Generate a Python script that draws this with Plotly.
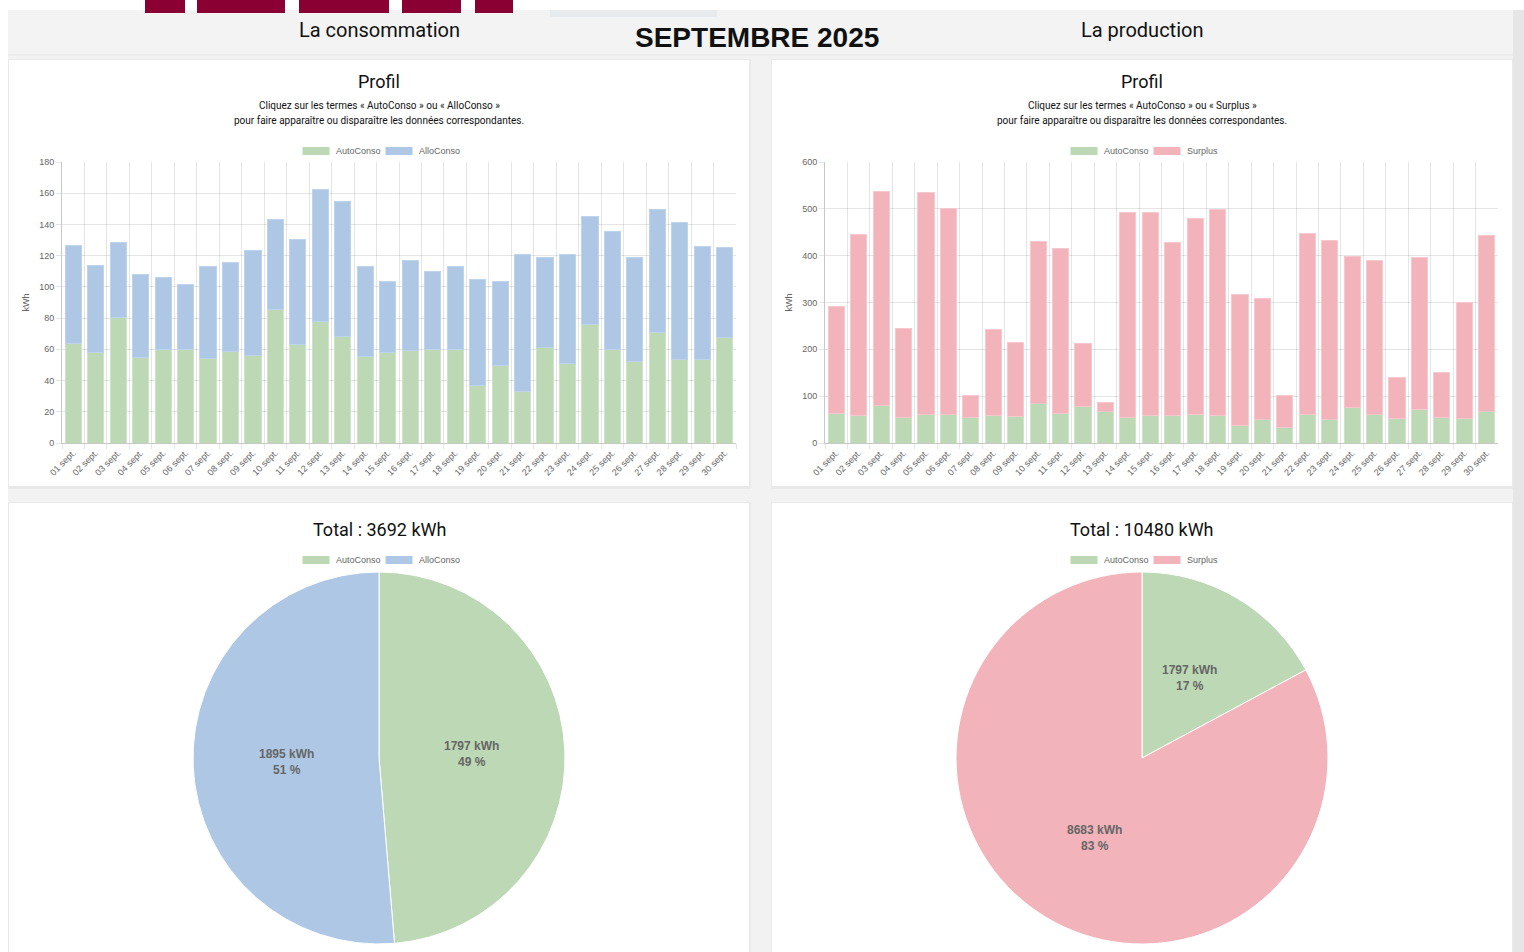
import math
import plotly.graph_objects as go

W, H = 1524, 952

# ---------------- DATA ----------------
days = ["%02d sept." % d for d in range(1, 31)]
autoconso = [63.9, 57.7, 80.6, 54.9, 59.9, 59.9, 53.9, 58.4, 56.0, 85.3,
             63.1, 78.0, 68.0, 55.4, 58.1, 59.0, 59.9, 59.6, 37.0, 49.4,
             33.1, 61.1, 50.9, 76.1, 60.1, 52.4, 71.0, 53.7, 53.2, 67.8]
conso_total = [126.8, 113.9, 128.5, 107.7, 105.8, 101.5, 112.9, 115.4, 123.6, 143.4,
               130.2, 162.5, 154.8, 113.1, 103.5, 116.7, 109.7, 112.9, 104.5, 103.7,
               120.8, 118.9, 121.0, 144.9, 135.7, 119.1, 149.4, 141.3, 126.1, 125.5]
prod_total = [292.2, 444.7, 538.0, 245.1, 535.2, 500.3, 101.2, 241.6, 214.5, 430.4,
              415.4, 212.4, 85.5, 491.7, 493.1, 427.6, 478.9, 498.8, 316.4, 307.8,
              101.2, 446.8, 432.6, 399.1, 389.8, 140.4, 396.2, 151.1, 300.7, 442.5]
alloconso = [round(t - a, 1) for t, a in zip(conso_total, autoconso)]
surplus = [round(t - a, 1) for t, a in zip(prod_total, autoconso)]

pie_conso_labels = ["AutoConso", "AlloConso"]
pie_conso_values = [1797, 1895]
pie_conso_pct = [49, 51]
pie_prod_labels = ["AutoConso", "Surplus"]
pie_prod_values = [1797, 8683]
pie_prod_pct = [17, 83]
total_conso = 3692
total_prod = 10480

# ---------------- STYLE ----------------
GREEN = "rgba(189,216,180,1)"
BLUE = "rgba(173,199,228,1)"
PINK = "rgba(242,179,186,1)"
GREEN_L = "rgba(205,228,198,1)"
BLUE_L = "rgba(190,212,236,1)"
PINK_L = "rgba(247,200,205,1)"
TICK_FONT = dict(family="Liberation Sans, Arial", size=9, color="#666")
HEAD_FONT = "Roboto, Open Sans, sans-serif"


def px(x):
    return x / W


def py(y):
    return 1 - y / H


fig = go.Figure()

# bars
fig.add_trace(go.Bar(x=days, y=autoconso, name="AutoConso", marker=dict(color=GREEN, line=dict(color=GREEN_L, width=1)),
                     xaxis="x", yaxis="y", showlegend=False))
fig.add_trace(go.Bar(x=days, y=alloconso, name="AlloConso", marker=dict(color=BLUE, line=dict(color=BLUE_L, width=1)),
                     xaxis="x", yaxis="y", showlegend=False))
fig.add_trace(go.Bar(x=days, y=autoconso, name="AutoConso", marker=dict(color=GREEN, line=dict(color=GREEN_L, width=1)),
                     xaxis="x2", yaxis="y2", showlegend=False))
fig.add_trace(go.Bar(x=days, y=surplus, name="Surplus", marker=dict(color=PINK, line=dict(color=PINK_L, width=1)),
                     xaxis="x2", yaxis="y2", showlegend=False))

annotations = []

# pies
R = 186
CY = 758
for cx, labels, vals, pcts, cols in [
    (379, pie_conso_labels, pie_conso_values, pie_conso_pct, [GREEN, BLUE]),
    (1142, pie_prod_labels, pie_prod_values, pie_prod_pct, [GREEN, PINK]),
]:
    fig.add_trace(go.Pie(
        labels=labels, values=vals, sort=False, direction="clockwise", rotation=0,
        textinfo="none",
        marker=dict(colors=cols, line=dict(color="white", width=1)),
        domain=dict(x=[px(cx - R), px(cx + R)], y=[py(CY + R), py(CY - R)]),
        showlegend=False, hoverinfo="label+value",
    ))
    # slice labels at half radius on the mid-angle (chart.js datalabels style)
    tot = float(sum(vals))
    cum = 0.0
    for v, p in zip(vals, pcts):
        mid = (cum + v / 2.0) / tot * 2 * math.pi
        cum += v
        lx = cx + (R / 2.0) * math.sin(mid)
        ly = CY - (R / 2.0) * math.cos(mid)
        annotations.append(dict(text="<b>%d kWh<br>%d %%</b>" % (v, p), x=px(lx), y=py(ly),
                                font=dict(family="Liberation Sans, Arial", size=12, color="#666")))

axis_common = dict(showline=True, linecolor="#c8c8c8", linewidth=1, gridcolor="rgba(0,0,0,0.1)",
                   tickfont=TICK_FONT, zeroline=False, ticks="outside", tickcolor="rgba(0,0,0,0.1)", ticklen=5,
                   automargin=False)

shapes = []

# page background pieces
shapes.append(dict(type="rect", xref="paper", yref="paper", x0=px(8), x1=1, y0=py(55), y1=py(10),
                   fillcolor="#f3f3f3", line=dict(width=0), layer="below"))
shapes.append(dict(type="rect", xref="paper", yref="paper", x0=px(8), x1=1, y0=0, y1=py(55),
                   fillcolor="#f2f2f2", line=dict(width=0), layer="below"))
shapes.append(dict(type="line", xref="paper", yref="paper", x0=px(8), x1=1, y0=py(55), y1=py(55),
                   line=dict(color="#e6e6e6", width=1), layer="below"))
# tabs
for a, b in [(145, 185), (197, 285), (299, 389), (402, 461), (475, 513)]:
    shapes.append(dict(type="rect", xref="paper", yref="paper", x0=px(a), x1=px(b), y0=py(13), y1=1,
                       fillcolor="#8a0033", line=dict(width=0), layer="below"))
shapes.append(dict(type="rect", xref="paper", yref="paper", x0=px(550), x1=px(717), y0=py(17), y1=py(10),
                   fillcolor="#e7ebed", line=dict(width=0), layer="below"))
# cards (shadow + white)
for x0, x1, y0, y1 in [(9, 749, 60, 486), (772, 1512, 60, 486), (9, 749, 503, 960), (772, 1512, 503, 960)]:
    shapes.append(dict(type="rect", xref="paper", yref="paper", x0=px(x0 - 1), x1=px(x1 + 2), y0=py(y1 + 3), y1=py(y0 - 1),
                       fillcolor="#e9e9e9", line=dict(width=0), layer="below"))
    shapes.append(dict(type="rect", xref="paper", yref="paper", x0=px(x0), x1=px(x1), y0=py(y1), y1=py(y0),
                       fillcolor="white", line=dict(width=0), layer="below"))
# right edge
shapes.append(dict(type="rect", xref="paper", yref="paper", x0=px(1513), x1=1, y0=0, y1=py(10),
                   fillcolor="#e6e6e6", line=dict(width=0), layer="below"))

# headings
annotations += [
    dict(text="La consommation", x=px(379), y=py(30), font=dict(family=HEAD_FONT, size=20, color="#111")),
    dict(text="<b>SEPTEMBRE 2025</b>", x=px(757), y=py(38), font=dict(family="Liberation Sans, Arial", size=28, color="#111")),
    dict(text="La production", x=px(1142), y=py(30), font=dict(family=HEAD_FONT, size=20, color="#111")),
]
for cx, word in [(379, "AlloConso"), (1142, "Surplus")]:
    annotations += [
        dict(text="Profil", x=px(cx), y=py(81), font=dict(family=HEAD_FONT, size=18, color="#111")),
        dict(text="Cliquez sur les termes « AutoConso » ou « %s »" % word, x=px(cx), y=py(105),
             font=dict(family=HEAD_FONT, size=10, color="#111")),
        dict(text="pour faire apparaître ou disparaître les données correspondantes.", x=px(cx), y=py(120),
             font=dict(family=HEAD_FONT, size=10, color="#111")),
    ]
annotations += [
    dict(text="Total : %d kWh" % total_conso, x=px(379), y=py(529), font=dict(family=HEAD_FONT, size=18, color="#111")),
    dict(text="Total : %d kWh" % total_prod, x=px(1142), y=py(529), font=dict(family=HEAD_FONT, size=18, color="#111")),
]

# custom legends (chart.js style boxes)
def legend(x_start, y, items):
    out_s, out_a = [], []
    x = x_start
    for label, col, tw in items:
        out_s.append(dict(type="rect", xref="paper", yref="paper", x0=px(x), x1=px(x + 28), y0=py(y + 4.5), y1=py(y - 4.5),
                          fillcolor=col, line=dict(color="white", width=1)))
        out_a.append(dict(text=label, x=px(x + 32), y=py(y), xanchor="left",
                          font=dict(family="Liberation Sans, Arial", size=9, color="#666")))
        x += 28 + 5 + tw + 10
    return out_s, out_a

for (xs, y, items) in [
    (302, 151, [("AutoConso", GREEN, 40), ("AlloConso", BLUE, 42)]),
    (1070, 151, [("AutoConso", GREEN, 40), ("Surplus", PINK, 32)]),
    (302, 560, [("AutoConso", GREEN, 40), ("AlloConso", BLUE, 42)]),
    (1070, 560, [("AutoConso", GREEN, 40), ("Surplus", PINK, 32)]),
]:
    s, a = legend(xs, y, items)
    shapes += s
    annotations += a

for a in annotations:
    a.setdefault("xref", "paper")
    a.setdefault("yref", "paper")
    a.setdefault("showarrow", False)
    a.setdefault("xanchor", "center")
    a.setdefault("yanchor", "middle")

fig.update_layout(
    width=W, height=H, margin=dict(l=0, r=0, t=0, b=0, pad=0), autosize=False,
    paper_bgcolor="white", plot_bgcolor="rgba(0,0,0,0)",
    barmode="stack", bargap=0.28, showlegend=False,
    shapes=shapes, annotations=annotations,
    xaxis=dict(domain=[px(62), px(736)], anchor="y", tickangle=-45, tickson="boundaries", showgrid=True,
               **axis_common),
    yaxis=dict(domain=[py(443), py(162)], anchor="x", range=[0, 180], dtick=20,
               title=dict(text="kWh", font=dict(family="Liberation Sans, Arial", size=9, color="#666"), standoff=8),
               **axis_common),
    xaxis2=dict(domain=[px(825), px(1498)], anchor="y2", tickangle=-45, tickson="boundaries", showgrid=True,
                **axis_common),
    yaxis2=dict(domain=[py(443), py(162)], anchor="x2", range=[0, 600], dtick=100,
                title=dict(text="kWh", font=dict(family="Liberation Sans, Arial", size=9, color="#666"), standoff=8),
                **axis_common),
)

fig.write_html(
    "out.html",
    config={"displayModeBar": False, "responsive": False},
    post_script=("document.documentElement.style.margin='0';document.body.style.margin='0';"
                 "document.documentElement.style.overflow='hidden';document.body.style.overflow='hidden';"),
)
